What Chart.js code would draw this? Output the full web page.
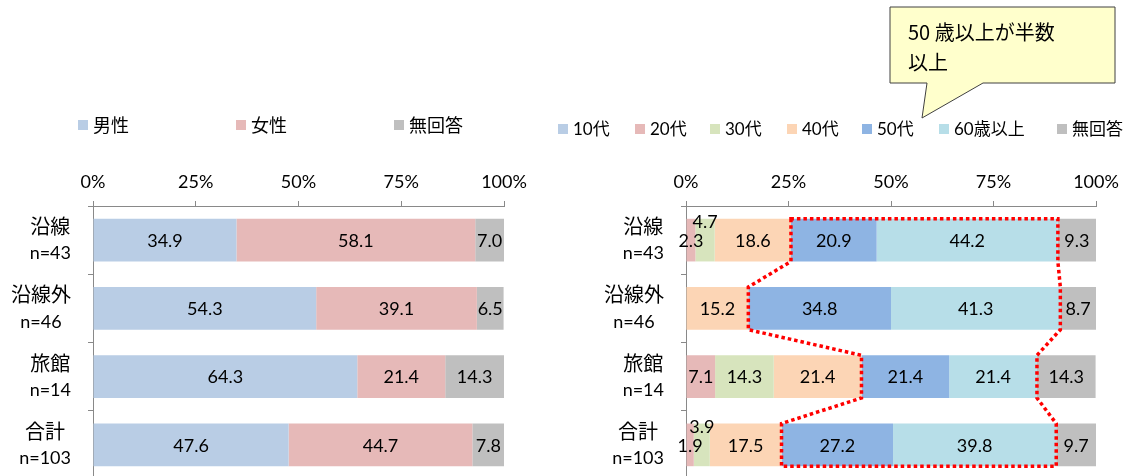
<!DOCTYPE html>
<html><head><meta charset="utf-8">
<script src="https://cdn.jsdelivr.net/npm/chart.js@4.4.1/dist/chart.umd.min.js"></script>
<style>
html,body{margin:0;padding:0;background:#fff;overflow:hidden;width:1133px;height:476px;}
#wrapL{position:absolute;left:0;top:0;width:540px;height:480px;}
#wrapR{position:absolute;left:540px;top:0;width:593px;height:480px;}
canvas{display:block;}
</style></head><body>
<div id="wrapL"><canvas id="cL" width="540" height="480"></canvas></div>
<div id="wrapR"><canvas id="cR" width="593" height="480"></canvas></div>
<script>
// ---- data ----
const categories = [['沿線','n=43'],['沿線外','n=46'],['旅館','n=14'],['合計','n=103']];
const tickValues = [0,25,50,75,100];
const genderLabels = ['男性','女性','無回答'];
const male = [34.9,54.3,64.3,47.6];
const female = [58.1,39.1,21.4,44.7];
const genderNA = [7.0,6.5,14.3,7.8];
const ageLabels = ['10代','20代','30代','40代','50代','60歳以上','無回答'];
const age10 = [0,0,0,0];
const age20 = [2.3,0,7.1,1.9];
const age30 = [4.7,0,14.3,3.9];
const age40 = [18.6,15.2,21.4,17.5];
const age50 = [20.9,34.8,21.4,27.2];
const age60 = [44.2,41.3,21.4,39.8];
const ageNA = [9.3,8.7,14.3,9.7];
const calloutText = ['50 歳以上が半数','以上'];

// ---- styling ----
const FONT = 'Lato, "Noto Sans CJK JP", sans-serif';
const FS = 18;
const AXIS = '#898989';
Chart.defaults.color = '#000';
Chart.defaults.font.family = FONT;
Chart.defaults.font.size = FS;

const genderColors = ['#B9CDE5','#E6B9B8','#BFBFBF'];
const ageColors = ['#B9CDE5','#E6B9B8','#D7E4BD','#FCD5B5','#8EB4E3','#B7DEE8','#BFBFBF'];
const hasCJK = t => /[\u3000-\u9fff\uff00-\uffef]/.test(t);

// custom legend
const legendPlugin = {
  id:'customLegend',
  afterDraw(chart, args, opts){
    const ctx = chart.ctx;
    ctx.save();
    ctx.font = `${opts.size}px ${FONT}`;
    ctx.textBaseline = 'middle';
    ctx.textAlign = 'left';
    chart.data.datasets.forEach((ds,i)=>{
      const x = opts.xs[i];
      ctx.fillStyle = ds.backgroundColor;
      ctx.fillRect(x, opts.y-5, 10, 10);
      ctx.fillStyle = '#000';
      ctx.fillText(ds.label, x+15, opts.y+1);
    });
    ctx.restore();
  }
};

// category labels: block right-aligned, lines centred
const catLabelPlugin = {
  id:'catLabels',
  afterDraw(chart){
    const ctx = chart.ctx, ys = chart.scales.y;
    ctx.save();
    ctx.fillStyle = '#000';
    ctx.textAlign = 'center';
    ctx.textBaseline = 'middle';
    const fontFor = t => hasCJK(t) ? `20px "Noto Sans CJK JP", sans-serif` : `${FS}px ${FONT}`;
    chart.data.labels.forEach((lines,i)=>{
      const cy = ys.getPixelForValue(i);
      const bw = Math.max(...lines.map(t=>{ctx.font = fontFor(t); return ctx.measureText(t).width;}));
      const cx = chart.chartArea.left - 22 - bw/2;
      lines.forEach((t,k)=>{ ctx.font = fontFor(t); ctx.fillText(t, cx, cy + (k-(lines.length-1)/2)*27); });
    });
    ctx.restore();
  }
};

// value labels in segments
const valueLabelPlugin = {
  id:'valueLabels',
  afterDatasetsDraw(chart){
    const ctx = chart.ctx;
    ctx.save();
    ctx.font = `${FS}px ${FONT}`;
    ctx.fillStyle = '#000';
    ctx.textAlign = 'center';
    ctx.textBaseline = 'middle';
    const lastRight = {};
    chart.data.datasets.forEach((ds,di)=>{
      const meta = chart.getDatasetMeta(di);
      meta.data.forEach((bar,i)=>{
        const v = ds.data[i];
        if(!v) return;
        const x0 = Math.min(bar.base,bar.x), x1 = Math.max(bar.base,bar.x);
        const cx = (x0+x1)/2;
        const txt = v.toFixed(1);
        const w = ctx.measureText(txt).width;
        let y = bar.y + 1;
        if(lastRight[i] !== undefined && cx - w/2 < lastRight[i]){
          y = bar.y - 18;
        } else {
          lastRight[i] = cx + w/2;
        }
        ctx.fillText(txt, cx, y);
      });
    });
    ctx.restore();
  }
};

// red dotted outline around 50代 + 60歳以上
const outlinePlugin = {
  id:'outline',
  afterDatasetsDraw(chart, args, opts){
    if(!opts.enabled) return;
    const m50 = chart.getDatasetMeta(opts.from), m60 = chart.getDatasetMeta(opts.to);
    const left = [], right = [];
    m50.data.forEach((bar,i)=>{
      const h = bar.height/2;
      const l = Math.min(bar.base,bar.x);
      const b2 = m60.data[i];
      const r = Math.max(b2.base,b2.x);
      left.push([l, bar.y-h],[l, bar.y+h]);
      right.unshift([r, bar.y-h]); right.unshift([r, bar.y+h]);
    });
    const pts = left.concat(right);
    const ctx = chart.ctx;
    ctx.save();
    ctx.strokeStyle = '#FF0000';
    ctx.lineWidth = 3.5;
    ctx.setLineDash([3.5,3]);
    ctx.beginPath();
    pts.forEach((p,k)=> k? ctx.lineTo(p[0],p[1]) : ctx.moveTo(p[0],p[1]));
    ctx.closePath();
    ctx.stroke();
    ctx.restore();
  }
};

// callout
const calloutPlugin = {
  id:'callout',
  afterDraw(chart, args, opts){
    if(!opts.enabled) return;
    const ctx = chart.ctx;
    const {x0,y0,x1,y1,t1,t2,tip} = opts;
    ctx.save();
    ctx.beginPath();
    ctx.moveTo(x0,y0); ctx.lineTo(x1,y0); ctx.lineTo(x1,y1);
    ctx.lineTo(t2,y1); ctx.lineTo(tip[0],tip[1]); ctx.lineTo(t1,y1);
    ctx.lineTo(x0,y1); ctx.closePath();
    ctx.fillStyle = '#FFFFCC';
    ctx.fill();
    ctx.strokeStyle = '#404040';
    ctx.lineWidth = 1;
    ctx.stroke();
    ctx.fillStyle = '#000';
    ctx.font = `20px "Noto Sans CJK JP", sans-serif`;
    ctx.textAlign = 'left';
    ctx.textBaseline = 'middle';
    calloutText.forEach((t,k)=>ctx.fillText(t, x0+18, y0+25+k*30));
    ctx.restore();
  }
};

function makeChart(id, labels, seriesList, colors, yWidth, padRight, legendOpts, extra){
  return new Chart(document.getElementById(id), {
    type:'bar',
    data:{
      labels: categories,
      datasets: seriesList.map((d,i)=>({label:labels[i], data:d, backgroundColor:colors[i],
        borderWidth:0, barPercentage:0.625, categoryPercentage:1}))
    },
    options:{
      indexAxis:'y',
      responsive:false,
      animation:false,
      layout:{padding:{left:0,top:0,right:padRight,bottom:1}},
      scales:{
        x:{stacked:true, min:0, max:100, position:'top',
          afterBuildTicks:s=>{ s.ticks = tickValues.map(v=>({value:v})); },
          ticks:{callback:v=>v+'%', padding:8, color:'#000', font:{size:FS}},
          grid:{drawOnChartArea:false, tickLength:5, color:AXIS},
          border:{color:AXIS, width:1},
          afterFit:s=>{ s.height = 206; }
        },
        y:{stacked:true,
          ticks:{display:false},
          grid:{drawOnChartArea:false, tickLength:5, color:AXIS, offset:true},
          border:{color:AXIS, width:1},
          afterFit:s=>{ s.width = yWidth; }
        }
      },
      plugins:{
        legend:{display:false},
        tooltip:{enabled:false},
        customLegend:legendOpts,
        outline: extra.outline || {enabled:false},
        callout: extra.callout || {enabled:false}
      }
    },
    plugins:[legendPlugin, catLabelPlugin, valueLabelPlugin, outlinePlugin, calloutPlugin]
  });
}

makeChart('cL', genderLabels, [male,female,genderNA], genderColors, 93, 36,
  {xs:[78,236,394], y:125, size:18}, {});
makeChart('cR', ageLabels, [age10,age20,age30,age40,age50,age60,ageNA], ageColors, 146, 37,
  {xs:[18,95,170,247,322,399,517], y:129, size:17},
  {outline:{enabled:true, from:4, to:5},
   callout:{enabled:true, x0:350, y0:7, x1:575, y1:83, t1:387, t2:443, tip:[382,118]}});
</script>
</body></html>
